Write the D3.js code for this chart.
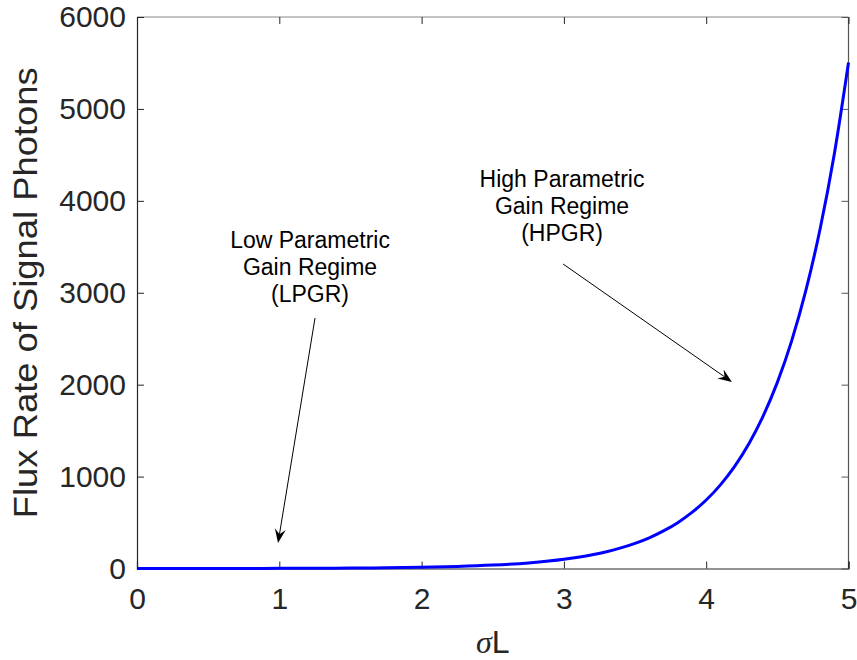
<!DOCTYPE html>
<html>
<head>
<meta charset="utf-8">
<script src="https://cdn.jsdelivr.net/npm/d3@7"></script>
<style>
  html, body { margin: 0; padding: 0; background: #ffffff; }
  svg text { font-family: "Liberation Sans", Arial, Helvetica, sans-serif; }
</style>
</head>
<body>
<svg id="chart" width="857" height="660"></svg>
<script>
// Signal photon flux versus gain length sigma*L
const sigmaL = [0, 0.25, 0.5, 0.75, 1, 1.25, 1.5, 1.75, 2, 2.25, 2.5, 2.75,
  3, 3.1, 3.2, 3.3, 3.4, 3.5, 3.6, 3.7, 3.8, 3.9,
  4, 4.1, 4.2, 4.3, 4.4, 4.5, 4.6, 4.7, 4.8, 4.9, 5];
const flux = [0, 0.06, 0.27, 0.68, 1.4, 2.6, 4.5, 7.8, 13, 22, 37, 61,
  100, 123, 150, 183, 224, 274, 334, 409, 499, 610,
  745, 910, 1111, 1357, 1658, 2025, 2474, 3022, 3691, 4508, 5506];

const xTicks = [0, 1, 2, 3, 4, 5];
const yTicks = [0, 1000, 2000, 3000, 4000, 5000, 6000];

// Annotations (anchor points in data units)
const lpgrLines = ["Low Parametric", "Gain Regime", "(LPGR)"];
const hpgrLines = ["High Parametric", "Gain Regime", "(HPGR)"];
const lpgrText = [1.216, 3487];
const hpgrText = [2.987, 4150];
const lpgrArrow = [[1.251, 2725], [0.991, 277]];
const hpgrArrow = [[2.994, 3313], [4.181, 2029]];

const svg = d3.select("#chart");
const plotL = 137, plotR = 848.5, plotT = 17, plotB = 568.5;

const x = d3.scaleLinear().domain([0, 5]).range([plotL, plotR]);
const y = d3.scaleLinear().domain([0, 6000]).range([plotB, plotT]);

const axisColor = "#262626";
const tickLen = 7;
const tickFont = 30;

// Box
svg.append("line").attr("x1", plotL).attr("x2", plotR).attr("y1", plotT).attr("y2", plotT)
  .attr("stroke", "#8a8a8a").attr("stroke-width", 1.2);
svg.append("line").attr("x1", plotR).attr("x2", plotR).attr("y1", plotT).attr("y2", plotB)
  .attr("stroke", "#555").attr("stroke-width", 1.2);

// Bottom axis (inward ticks)
const xAxis = d3.axisBottom(x).tickValues(xTicks).tickSize(-tickLen).tickPadding(19)
  .tickFormat(d3.format("d"));
const gx = svg.append("g").attr("transform", `translate(0,${plotB})`).call(xAxis);
gx.select(".domain").attr("stroke", axisColor).attr("stroke-width", 1.2);
gx.selectAll(".tick line").attr("stroke", axisColor);
gx.selectAll(".tick text").attr("fill", axisColor).attr("font-size", tickFont)
  .attr("font-family", "'Liberation Sans', Arial, sans-serif");

// Top ticks
const xAxisTop = d3.axisTop(x).tickValues(xTicks).tickSize(-tickLen).tickFormat("");
const gxt = svg.append("g").attr("transform", `translate(0,${plotT})`).call(xAxisTop);
gxt.select(".domain").remove();
gxt.selectAll(".tick line").attr("stroke", axisColor);

// Left axis
const yAxis = d3.axisLeft(y).tickValues(yTicks).tickSize(-tickLen).tickPadding(11)
  .tickFormat(d3.format("d"));
const gy = svg.append("g").attr("transform", `translate(${plotL},0)`).call(yAxis);
gy.select(".domain").attr("stroke", axisColor).attr("stroke-width", 1.2);
gy.selectAll(".tick line").attr("stroke", axisColor);
gy.selectAll(".tick text").attr("fill", axisColor).attr("font-size", tickFont)
  .attr("font-family", "'Liberation Sans', Arial, sans-serif");

// Right ticks
const yAxisRight = d3.axisRight(y).tickValues(yTicks).tickSize(-tickLen).tickFormat("");
const gyr = svg.append("g").attr("transform", `translate(${plotR},0)`).call(yAxisRight);
gyr.select(".domain").remove();
gyr.selectAll(".tick line").attr("stroke", "#555");

// Curve
const line = d3.line().x((d, i) => x(sigmaL[i])).y(d => y(d)).curve(d3.curveMonotoneX);
svg.append("path").datum(flux).attr("d", line)
  .attr("fill", "none").attr("stroke", "#0000ff").attr("stroke-width", 3);

// Axis labels
svg.append("text")
  .attr("transform", `translate(${(plotL + plotR) / 2},653)`)
  .attr("text-anchor", "middle").attr("font-size", 32).attr("fill", axisColor)
  .call(t => {
    t.append("tspan").attr("font-style", "italic")
      .attr("font-family", "'Liberation Serif', 'Times New Roman', serif").text("σ");
    t.append("tspan").text("L");
  });

svg.append("text")
  .attr("transform", `translate(37,${(plotT + plotB) / 2}) rotate(-90) scale(1.07,1)`)
  .attr("text-anchor", "middle").attr("font-size", 34).attr("fill", axisColor)
  .text("Flux Rate of Signal Photons");

// Annotations
function annotate(lines, anchor, arrow) {
  const t = svg.append("text").attr("text-anchor", "middle")
    .attr("font-size", 23).attr("fill", "#000");
  lines.forEach((s, i) => {
    t.append("tspan").attr("x", x(anchor[0])).attr("y", y(anchor[1]) + i * 27).text(s);
  });
  const [p0, p1] = arrow.map(d => [x(d[0]), y(d[1])]);
  const ang = Math.atan2(p1[1] - p0[1], p1[0] - p0[0]);
  const headLen = 14, headHalf = 5.5, notch = 9;
  const ux = Math.cos(ang), uy = Math.sin(ang);
  const nx = -uy, ny = ux;
  svg.append("line")
    .attr("x1", p0[0]).attr("y1", p0[1])
    .attr("x2", p1[0] - ux * notch).attr("y2", p1[1] - uy * notch)
    .attr("stroke", "#000").attr("stroke-width", 1);
  const head = [
    [p1[0], p1[1]],
    [p1[0] - ux * headLen + nx * headHalf, p1[1] - uy * headLen + ny * headHalf],
    [p1[0] - ux * notch, p1[1] - uy * notch],
    [p1[0] - ux * headLen - nx * headHalf, p1[1] - uy * headLen - ny * headHalf]
  ];
  svg.append("path").attr("d", "M" + head.map(p => p.join(",")).join("L") + "Z")
    .attr("fill", "#000");
}
annotate(lpgrLines, lpgrText, lpgrArrow);
annotate(hpgrLines, hpgrText, hpgrArrow);
</script>
</body>
</html>
